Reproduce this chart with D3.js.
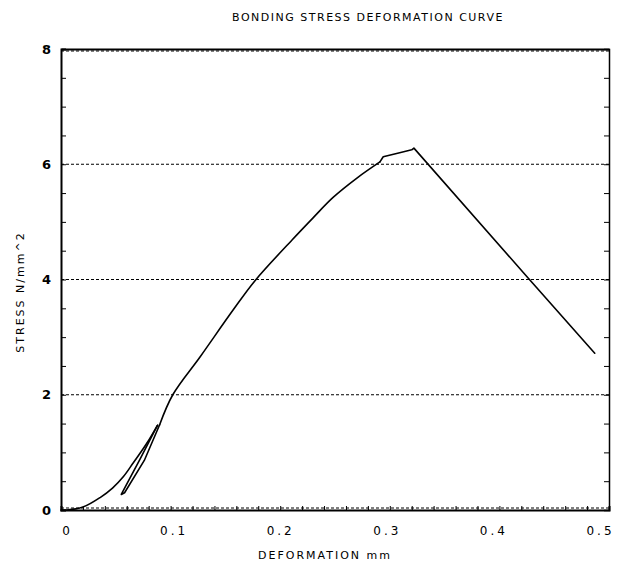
<!DOCTYPE html>
<html>
<head>
<meta charset="utf-8">
<script src="https://cdn.jsdelivr.net/npm/d3@7"></script>
<style>
  body { margin: 0; background: #fff; }
  text { font-family: "DejaVu Sans", sans-serif; fill: #000; }
</style>
</head>
<body>
<div id="chart"></div>
<script>
// values
var deformation = [0, 0.005, 0.02, 0.036, 0.047, 0.057, 0.066, 0.078, 0.088,
    0.072, 0.055, 0.058, 0.076, 0.090,
    0.102, 0.127, 0.157, 0.177, 0.211, 0.23, 0.248, 0.27, 0.291, 0.294,
    0.309, 0.320, 0.322, 0.426, 0.487]
var stress = [0, 0, 0.05, 0.22, 0.38, 0.58, 0.82, 1.15, 1.47,
    0.88, 0.27, 0.30, 0.86, 1.48,
    2.0, 2.66, 3.47, 3.98, 4.69, 5.07, 5.42, 5.76, 6.04, 6.13,
    6.2, 6.25, 6.28, 4.03, 2.72]

var xTicks = [0, 0.1, 0.2, 0.3, 0.4, 0.5]
var xTickLabels = ["0", "0.1", "0.2", "0.3", "0.4", "0.5"]
var yTicks = [0, 2, 4, 6, 8]
var gridValues = [0, 2, 4, 6, 8]

var margin = {top: 49, right: 11, bottom: 57, left: 61},
    width = 620 - margin.left - margin.right,
    height = 567 - margin.top - margin.bottom;

var svg = d3.select("#chart")
  .append("svg")
    .attr("width", 620)
    .attr("height", 567)

var g = svg.append("g")
    .attr("transform", "translate(" + margin.left + "," + margin.top + ")");

var x = d3.scaleLinear().domain([0, 0.5]).range([0, width]);
var y = d3.scaleLinear().domain([0, 8]).range([height, 0]);

// dotted grid lines
g.selectAll(".grid")
  .data(gridValues)
  .enter()
  .append("line")
    .attr("x1", 0)
    .attr("x2", width)
    .attr("y1", d => y(d) - (d == 0 ? 2 : 0) + (d == 8 ? 2 : 0))
    .attr("y2", d => y(d) - (d == 0 ? 2 : 0) + (d == 8 ? 2 : 0))
    .attr("stroke", "#000")
    .attr("stroke-width", 1.2)
    .attr("stroke-dasharray", "3,2");

// minor ticks (pointing inward)
var minorY = d3.range(0, 8.01, 0.5)
var minorX = d3.range(0, 0.5001, 0.02)

g.append("g")
  .call(d3.axisLeft(y).tickValues(minorY).tickSize(-5).tickFormat(""))
  .call(a => a.select(".domain").attr("stroke-width", 2));

g.append("g")
  .attr("transform", "translate(" + width + ",0)")
  .call(d3.axisRight(y).tickValues(minorY).tickSize(-5).tickFormat(""))
  .call(a => a.select(".domain").attr("stroke-width", 1.5));

g.append("g")
  .attr("transform", "translate(0," + height + ")")
  .call(d3.axisBottom(x).tickValues(minorX).tickSize(-4).tickFormat(""))
  .call(a => a.select(".domain").attr("stroke-width", 2));

g.append("g")
  .call(d3.axisTop(x).tickValues([]).tickSize(0))
  .call(a => a.select(".domain").attr("stroke-width", 2));

// tick labels
var yLab = g.append("g")
  .call(d3.axisLeft(y).tickValues(yTicks).tickSize(0).tickPadding(10).tickFormat(d3.format("d")));
yLab.select(".domain").remove();
yLab.selectAll("text").style("font-size", "13px").style("font-weight", "bold");

var xLab = g.append("g")
  .attr("transform", "translate(0," + height + ")")
  .call(d3.axisBottom(x).tickValues(xTicks).tickSize(0).tickPadding(16)
    .tickFormat((d, i) => xTickLabels[i]));
xLab.select(".domain").remove();
xLab.selectAll("text")
  .style("font-size", "12px")
  .style("letter-spacing", "3px")
  .attr("dx", (d, i) => (6 - i * 3) + "px");

// curve: smooth loading parts, straight unloading/peak parts
var pts = deformation.map((d, i) => [d, stress[i]])
var pieces = [
  {from: 0, to: 8, smooth: true},
  {from: 8, to: 13, smooth: false},
  {from: 13, to: 22, smooth: true},
  {from: 22, to: pts.length - 1, smooth: false}
]

pieces.forEach(p => {
  var line = d3.line()
    .x(d => x(d[0]))
    .y(d => y(d[1]))
    .curve(p.smooth ? d3.curveCatmullRom.alpha(0.5) : d3.curveLinear);
  g.append("path")
    .datum(pts.slice(p.from, p.to + 1))
    .attr("d", line)
    .attr("fill", "none")
    .attr("stroke", "#000")
    .attr("stroke-width", 1.6)
    .attr("stroke-linejoin", "round")
    .attr("stroke-linecap", "round");
})

// titles
svg.append("text")
  .attr("x", 368)
  .attr("y", 21)
  .attr("text-anchor", "middle")
  .style("font-size", "11px")
  .style("letter-spacing", "1.5px")
  .text("BONDING STRESS DEFORMATION CURVE");

svg.append("text")
  .attr("x", 325)
  .attr("y", 559)
  .attr("text-anchor", "middle")
  .style("font-size", "11px")
  .style("letter-spacing", "2px")
  .text("DEFORMATION mm");

svg.append("text")
  .attr("transform", "translate(24,292)rotate(-90)")
  .attr("text-anchor", "middle")
  .style("font-size", "11px")
  .style("letter-spacing", "2px")
  .text("STRESS N/mm^2");
</script>
</body>
</html>
